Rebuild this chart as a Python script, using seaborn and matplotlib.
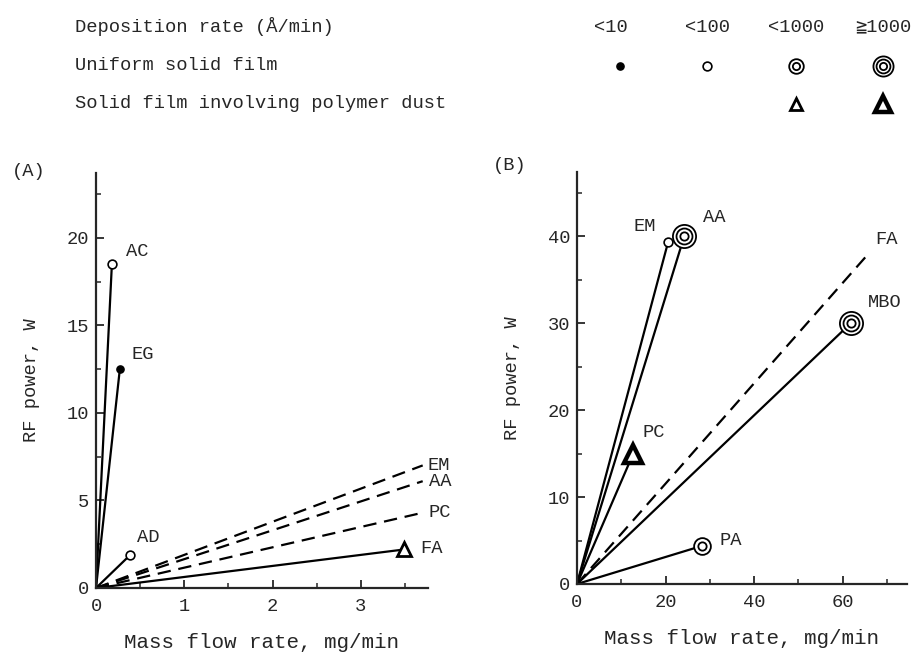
import matplotlib
matplotlib.use('Agg')
import matplotlib.pyplot as plt
import matplotlib.ticker as mt
import pandas as pd
import seaborn as sb

# ---- data ----
rate_labels = ['<10', '<100', '<1000', '≧1000']
row_labels = ['Deposition rate (Å/min)', 'Uniform solid film', 'Solid film involving polymer dust']

A_names = ['AC', 'EG', 'AD', 'EM', 'AA', 'PC', 'FA']
A_flow = [0.18, 0.27, 0.39, 3.70, 3.70, 3.70, 3.49]
A_power = [18.5, 12.5, 1.9, 7.0, 6.1, 4.3, 2.2]
A_line = ['solid', 'solid', 'solid', 'dashed', 'dashed', 'dashed', 'solid']
A_mark = ['ring', 'dot', 'ring', None, None, None, 'tri']

B_names = ['EM', 'AA', 'PC', 'FA', 'MBO', 'PA']
B_flow = [20.6, 24.2, 12.7, 65.8, 61.8, 28.3]
B_power = [39.4, 40.0, 15.0, 38.0, 30.0, 4.4]
B_line = ['solid', 'solid', 'solid', 'dashed', 'solid', 'solid']
B_mark = ['ring', 'ring3', 'tri_big', None, 'ring3', 'ring2']

# label offsets in pixels from the line end (dx, dy, ha)
A_lab = [(14, 13, 'left'), (12, 15, 'left'), (7, 17, 'left'), (5, 0, 'left'),
         (6, 0, 'left'), (6, 0, 'left'), (16, 1, 'left')]
B_lab = [(-12, 15, 'right'), (19, 19, 'left'), (9, 21, 'left'), (7, 14, 'left'),
         (17, 21, 'left'), (17, 5, 'left')]

sb.set_style('ticks')
plt.rcParams['font.family'] = ['Liberation Mono', 'DejaVu Sans Mono', 'DejaVu Sans']
plt.rcParams['font.size'] = 13.5

PX = 0.72  # points per pixel at dpi 100


def put_mark(ax, x, y, kind, big=False):
    k = dict(color='black', zorder=5, clip_on=False, linestyle='none')
    s = 1.15 if big else 1.0
    if kind == 'dot':
        ax.plot(x, y, 'o', ms=5.2, mfc='black', mec='black', **k)
    elif kind == 'ring':
        ax.plot(x, y, 'o', ms=6.3, mfc='white', mec='black', mew=1.2, **k)
    elif kind == 'ring2':
        ax.plot(x, y, 'o', ms=10.5 * s, mfc='white', mec='black', mew=1.3, **k)
        ax.plot(x, y, 'o', ms=5.2 * s, mfc='none', mec='black', mew=1.3, **k)
    elif kind == 'ring3':
        ax.plot(x, y, 'o', ms=14.5 * s, mfc='white', mec='black', mew=1.3, **k)
        ax.plot(x, y, 'o', ms=10.0 * s, mfc='none', mec='black', mew=1.3, **k)
        ax.plot(x, y, 'o', ms=5.2 * s, mfc='none', mec='black', mew=1.3, **k)
    elif kind == 'tri':
        ax.plot(x, y, '^', ms=8.5 * s, mfc='white', mec='black', mew=2.0, **k)
    elif kind == 'tri_big':
        ax.plot(x, y, '^', ms=11.5 * s, mfc='white', mec='black', mew=3.2, **k)


def panel(ax, names, flow, power, line, mark, lab):
    rows = []
    for n, f, p, l in zip(names, flow, power, line):
        rows.append({'name': n, 'flow': 0.0, 'power': 0.0, 'line': l})
        rows.append({'name': n, 'flow': f, 'power': p, 'line': l})
    df = pd.DataFrame(rows)
    sb.lineplot(data=df, x='flow', y='power', units='name', estimator=None,
                style='line', dashes={'solid': '', 'dashed': (6, 3.5)},
                color='black', linewidth=1.6, legend=False, sort=False, ax=ax)
    for n, f, p, m, (dx, dy, ha) in zip(names, flow, power, mark, lab):
        if m:
            put_mark(ax, f, p, m, big=True)
        ax.annotate(n, (f, p), xytext=(dx * PX, dy * PX), textcoords='offset points',
                    ha=ha, va='center', fontsize=13.5)
    sb.despine(ax=ax)
    for s in ['left', 'bottom']:
        ax.spines[s].set_linewidth(1.6)
    ax.tick_params(which='major', direction='in', length=6, width=1.3, pad=5)
    ax.tick_params(which='minor', direction='in', length=3.5, width=1.1)
    ax.tick_params(axis='x', which='major', pad=7)
    ax.set_xlabel('Mass flow rate, mg/min', fontsize=15, labelpad=13)
    ax.set_ylabel('RF power, W', fontsize=13.5, labelpad=19)


fig = plt.figure(figsize=(9.19, 6.56), dpi=100)

axA = fig.add_axes([96 / 919, 1 - 588 / 656, 332 / 919, 415 / 656])
panel(axA, A_names, A_flow, A_power, A_line, A_mark, A_lab)
axA.set_xlim(0, 3.76)
axA.set_ylim(0, 23.7)
axA.xaxis.set_major_locator(mt.MultipleLocator(1))
axA.xaxis.set_minor_locator(mt.MultipleLocator(0.5))
axA.yaxis.set_major_locator(mt.MultipleLocator(5))
axA.yaxis.set_minor_locator(mt.MultipleLocator(2.5))

axB = fig.add_axes([577 / 919, 1 - 584 / 656, 330 / 919, 412 / 656])
panel(axB, B_names, B_flow, B_power, B_line, B_mark, B_lab)
axB.set_xlim(0, 74.5)
axB.set_ylim(0, 47.4)
axB.xaxis.set_major_locator(mt.MultipleLocator(20))
axB.xaxis.set_minor_locator(mt.MultipleLocator(10))
axB.yaxis.set_major_locator(mt.MultipleLocator(10))
axB.yaxis.set_minor_locator(mt.MultipleLocator(5))

fig.text(12 / 919, 1 - 172 / 656, '(A)', fontsize=13.5, va='center')
fig.text(493 / 919, 1 - 166 / 656, '(B)', fontsize=13.5, va='center')

# ---- key at the top ----
key = fig.add_axes([0, 0, 1, 1])
key.set_xlim(0, 1)
key.set_ylim(0, 1)
key.axis('off')
row_y = [1 - 27 / 656, 1 - 66 / 656, 1 - 104 / 656]
col_x = [611 / 919, 707 / 919, 796 / 919, 883 / 919]
for t, y in zip(row_labels, row_y):
    key.text(75 / 919, y, t, fontsize=13.5, va='center')
for t, x in zip(rate_labels, col_x):
    key.text(x, row_y[0], t, fontsize=13.5, va='center', ha='center')
for m, x in zip(['dot', 'ring', 'ring2', 'ring3'], col_x):
    put_mark(key, x + (0.01 if m == 'dot' else 0), row_y[1], m)
for m, x in zip(['tri', 'tri_big'], col_x[2:]):
    put_mark(key, x, row_y[2], m)

fig.savefig('out.png', dpi=100)
